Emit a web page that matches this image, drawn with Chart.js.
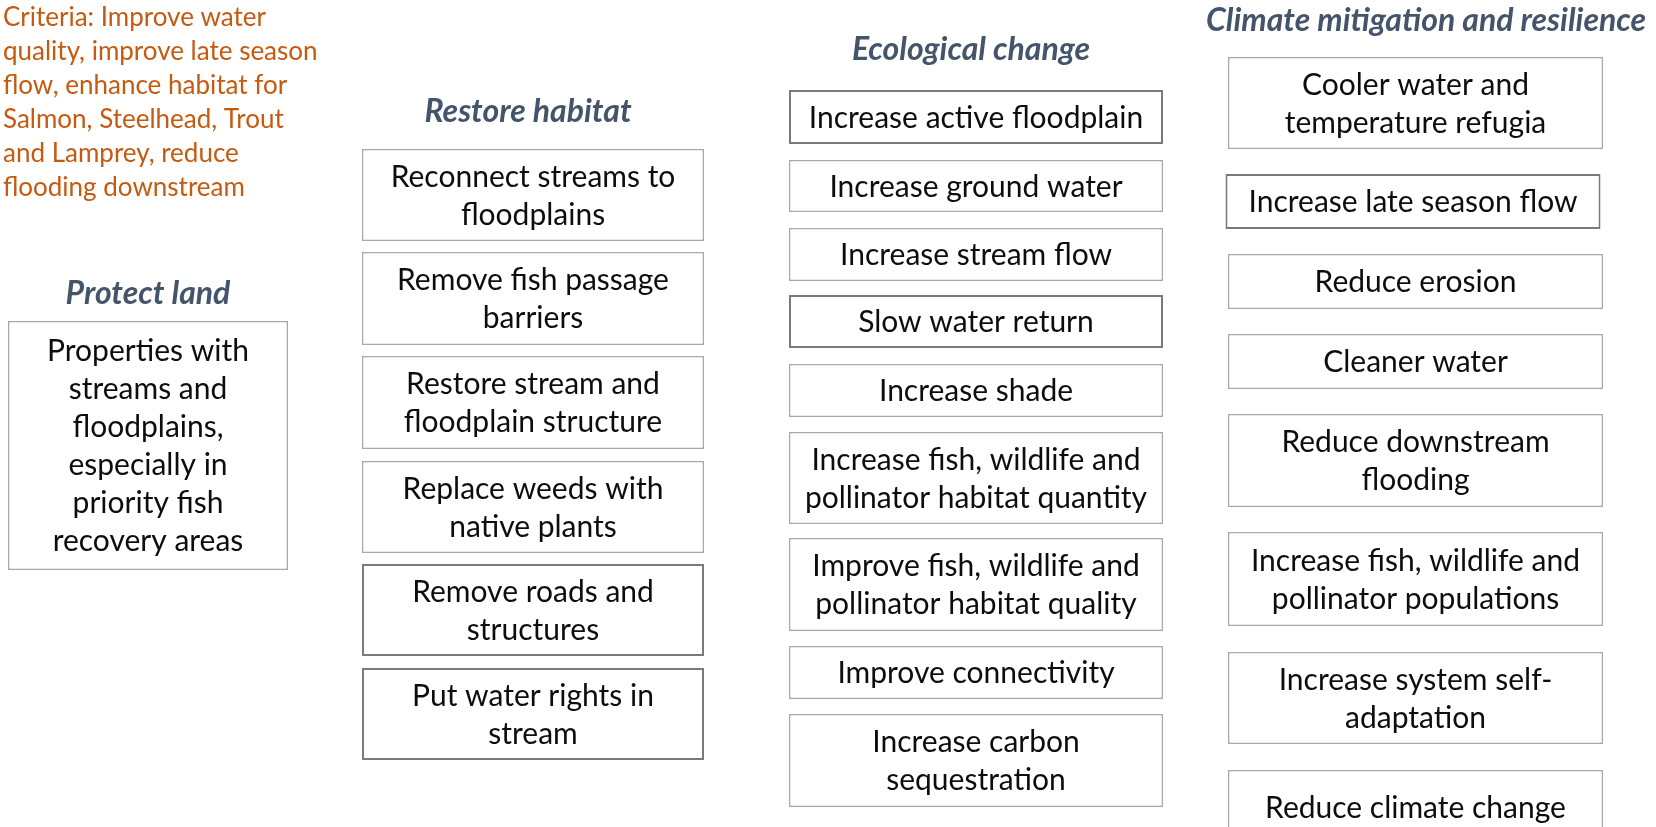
<!DOCTYPE html>
<html>
<head>
<meta charset="utf-8">
<script src="https://cdn.jsdelivr.net/npm/chart.js@4.4.1/dist/chart.umd.min.js"></script>
<style>
html,body{margin:0;padding:0;background:#fff;}
#wrap{width:1656px;height:827px;position:relative;}
</style>
</head>
<body>
<div id="wrap"><canvas id="c"></canvas></div>
<script>
// ---- Content (text) ----
const criteriaLines = ["Criteria: Improve water", "quality, improve late season", "flow, enhance habitat for", "Salmon, Steelhead, Trout", "and Lamprey, reduce", "flooding downstream"];
const columnTitles = ["Protect land", "Restore habitat", "Ecological change", "Climate mitigation and resilience"];

const protectLabels = [["Properties with","streams and","floodplains,","especially in","priority fish","recovery areas"]];
const restoreLabels = [["Reconnect streams to","floodplains"],["Remove fish passage","barriers"],["Restore stream and","floodplain structure"],["Replace weeds with","native plants"],["Remove roads and","structures"],["Put water rights in","stream"]];
const ecoLabels = [["Increase active floodplain"],["Increase ground water"],["Increase stream flow"],["Slow water return"],["Increase shade"],["Increase fish, wildlife and","pollinator habitat quantity"],["Improve fish, wildlife and","pollinator habitat quality"],["Improve connectivity"],["Increase carbon","sequestration"]];
const climateLabels = [["Cooler water and","temperature refugia"],["Increase late season flow"],["Reduce erosion"],["Cleaner water"],["Reduce downstream","flooding"],["Increase fish, wildlife and","pollinator populations"],["Increase system self-","adaptation"],["Reduce climate change"]];

// ---- Layout (box spans in page units: [top, bottom]) ----
const protectSpans = [[321,570]];
const restoreSpans = [[149,241],[252,345],[356,449],[461,553],[564,656],[668,760]];
const ecoSpans = [[90,144],[160,212],[228,281],[295,348],[364,417],[432,524],[538,631],[646,699],[714,807]];
const climateSpans = [[57,149],[174,229],[254,309],[334,389],[414,507],[532,626],[652,744],[770,845]];

const columnX = [[8,288],[362,704],[789,1163],[1228,1603]];
const climateXOverride = {1: [1225,1601]};
const emphasized = [[],[4,5],[0,3],[1]];
const titlePos = [[148,294],[528,112],[971,50],[1426,21]];
const criteriaPos = [3,18,34];

const LIGHT = '#A9A9A9', DARK = '#7A7A7A';
const TITLE_COLOR = '#44546A', CRIT_COLOR = '#C55A11';

const allLabels = [protectLabels, restoreLabels, ecoLabels, climateLabels];
const allSpans = [protectSpans, restoreSpans, ecoSpans, climateSpans];

const datasets = allSpans.map((spans, ci) => {
  const xs = columnX[ci];
  return {
    label: columnTitles[ci],
    data: spans.map((s, i) => {
      let r = xs;
      if (ci === 3 && climateXOverride[i]) r = climateXOverride[i];
      return { x: (r[0] + r[1]) / 2, y: [s[0], s[1]] };
    }),
    lines: allLabels[ci],
    barThickness: xs[1] - xs[0],
    grouped: false,
    backgroundColor: '#ffffff',
    borderColor: spans.map((s, i) => emphasized[ci].includes(i) ? DARK : LIGHT),
    borderWidth: spans.map((s, i) => emphasized[ci].includes(i) ? 2 : 1.5),
    borderSkipped: false,
    inflateAmount: 0
  };
});

const textPlugin = {
  id: 'diagramText',
  afterDatasetsDraw(chart) {
    const ctx = chart.ctx;
    const xs = chart.scales.x, ys = chart.scales.y;
    ctx.save();
    ctx.textAlign = 'center';
    ctx.textBaseline = 'middle';
    // box texts
    chart.data.datasets.forEach((ds, di) => {
      const meta = chart.getDatasetMeta(di);
      meta.data.forEach((el, i) => {
        const lines = ds.lines[i];
        const cx = el.x;
        const cy = (el.y + el.base) / 2;
        const lh = 38;
        ctx.fillStyle = '#0d0d0d';
        ctx.font = '30px Lato';
        lines.forEach((t, k) => {
          ctx.fillText(t, cx, cy + (k - (lines.length - 1) / 2) * lh + 1);
        });
      });
    });
    // column titles
    ctx.fillStyle = TITLE_COLOR;
    ctx.font = 'italic bold 32px Lato';
    columnTitles.forEach((t, i) => {
      ctx.fillText(t, xs.getPixelForValue(titlePos[i][0]), ys.getPixelForValue(titlePos[i][1]));
    });
    // criteria
    ctx.textAlign = 'left';
    ctx.fillStyle = CRIT_COLOR;
    ctx.font = '26px Lato';
    criteriaLines.forEach((t, k) => {
      ctx.fillText(t, xs.getPixelForValue(criteriaPos[0]), ys.getPixelForValue(criteriaPos[1] + k * criteriaPos[2]));
    });
    ctx.restore();
  }
};

new Chart(document.getElementById('c'), {
  type: 'bar',
  data: { datasets },
  options: {
    responsive: true,
    maintainAspectRatio: false,
    animation: false,
    devicePixelRatio: 1,
    layout: { padding: 0 },
    plugins: { legend: { display: false }, tooltip: { enabled: false }, title: { display: false } },
    scales: {
      x: { type: 'linear', min: 0, max: 1656, offset: false, display: false },
      y: { type: 'linear', min: 0, max: 827, reverse: true, display: false }
    }
  },
  plugins: [textPlugin]
});
</script>
</body>
</html>
